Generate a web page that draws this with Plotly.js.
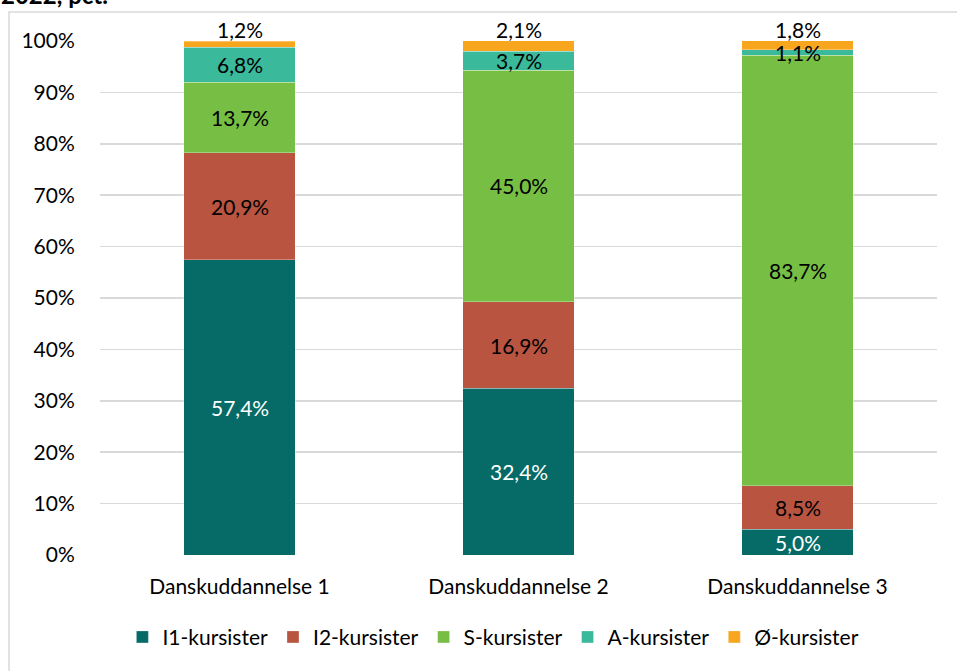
<!DOCTYPE html>
<html>
<head>
<meta charset="utf-8">
<script src="https://cdn.plot.ly/plotly-3.0.1.min.js"></script>
<style>html,body{margin:0;padding:0;background:#fff;}#chart{width:957px;height:671px;}</style>
</head>
<body>
<div id="chart"></div>
<script>
const categories = ["Danskuddannelse 1", "Danskuddannelse 2", "Danskuddannelse 3"];
const seriesNames = ["I1-kursister", "I2-kursister", "S-kursister", "A-kursister", "Ø-kursister"];
const i1Values = [57.4, 32.4, 5.0];
const i2Values = [20.9, 16.9, 8.5];
const sValues = [13.7, 45.0, 83.7];
const aValues = [6.8, 3.7, 1.1];
const oValues = [1.2, 2.1, 1.8];
const yTickVals = [0, 10, 20, 30, 40, 50, 60, 70, 80, 90, 100];
const yTickText = ["0%", "10%", "20%", "30%", "40%", "50%", "60%", "70%", "80%", "90%", "100%"];

const colors = ["#066B66", "#B95440", "#77BE45", "#3BB99B", "#F9A61F"];
const textColors = ["#ffffff", "#000000", "#000000", "#000000", "#000000"];
const allValues = [i1Values, i2Values, sValues, aValues, oValues];
const FONT = "Lato, 'Open Sans', sans-serif";
const FS = 21;

function fmt(v) { return v.toFixed(1).replace(".", ",") + "%"; }

const traces = allValues.map((vals, i) => ({
  type: "bar",
  name: seriesNames[i],
  x: categories,
  y: vals,
  marker: { color: colors[i], line: { color: "rgba(255,255,255,0.6)", width: 0.5 } },
  width: 0.4,
  hoverinfo: "none"
}));

// data labels via annotations, positioned in data coordinates
const labelAnnotations = [];
categories.forEach((cat, c) => {
  let base = 0;
  allValues.forEach((vals, i) => {
    const v = vals[c];
    const last = i === allValues.length - 1;
    labelAnnotations.push({
      x: cat, y: last ? Math.min(base + v, 100) : base + v / 2,
      xref: "x", yref: "y",
      text: fmt(v),
      showarrow: false,
      yanchor: last ? "bottom" : "middle",
      yshift: last ? -3 : 0,
      font: { family: FONT, size: FS, color: textColors[i] }
    });
    base += v;
  });
});

const layout = {
  width: 957,
  height: 671,
  margin: { l: 100, r: 20, t: 41, b: 116 },
  paper_bgcolor: "#ffffff",
  plot_bgcolor: "#ffffff",
  barmode: "stack",
  font: { family: FONT, size: FS, color: "#000000" },
  showlegend: true,
  legend: {
    orientation: "h",
    x: 0.47, xanchor: "center",
    y: -0.16, yanchor: "middle",
    font: { family: FONT, size: FS, color: "#000000" },
    traceorder: "normal",
    itemwidth: 30,
    tracegroupgap: 0
  },
  xaxis: {
    type: "category",
    showgrid: false,
    zeroline: false,
    showline: false,
    ticks: "outside",
    ticklen: 13,
    tickcolor: "rgba(0,0,0,0)",
    tickfont: { family: FONT, size: FS, color: "#000000" },
    fixedrange: true
  },
  yaxis: {
    range: [0, 100],
    tickvals: yTickVals,
    ticktext: yTickText,
    showgrid: true,
    gridcolor: "#D9D9D9",
    gridwidth: 1.5,
    zeroline: false,
    showline: false,
    ticks: "outside",
    ticklen: 20,
    tickcolor: "rgba(0,0,0,0)",
    tickfont: { family: FONT, size: FS, color: "#000000" },
    fixedrange: true
  },
  shapes: [{
    type: "rect",
    xref: "paper", yref: "paper",
    x0: (9 - 100) / 837, x1: 1.2,
    y0: -0.4, y1: (555 - 12) / 514,
    line: { color: "#D9D9D9", width: 1.5 },
    fillcolor: "rgba(0,0,0,0)",
    layer: "below"
  }],
  annotations: labelAnnotations.concat([{
    text: "<b>2022, pct.</b>",
    xref: "paper", yref: "paper",
    x: -101 / 837, xanchor: "left",
    y: (555 - 11) / 514, yanchor: "bottom",
    showarrow: false,
    font: { family: FONT, size: 24, color: "#000000" }
  }])
};

Plotly.newPlot("chart", traces, layout, { displayModeBar: false, staticPlot: true });
</script>
</body>
</html>
